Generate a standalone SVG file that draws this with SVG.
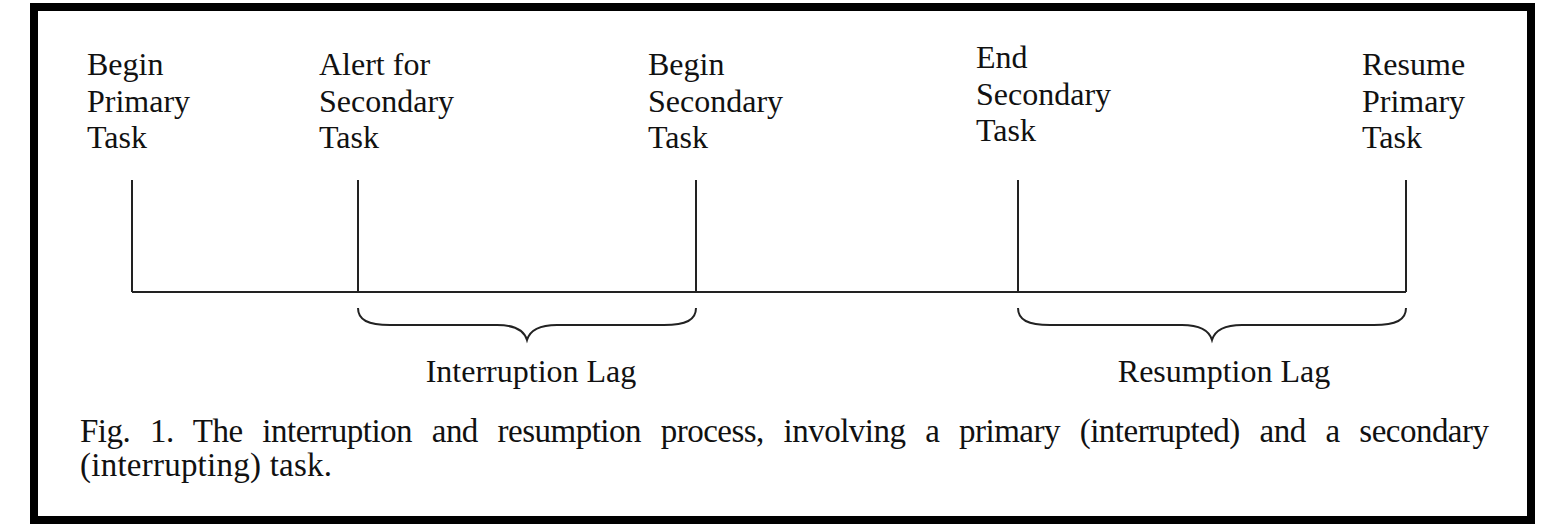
<svg xmlns="http://www.w3.org/2000/svg" width="1545" height="524" viewBox="0 0 1545 524">
<style>
.lbl{font-family:"Liberation Serif","Times New Roman",serif;font-size:32px;fill:#111;}
.cap{font-family:"Liberation Serif","Times New Roman",serif;font-size:33px;fill:#111;}
.ln{stroke:#222;stroke-width:2;fill:none;}
</style>
<rect x="0" y="0" width="1545" height="524" fill="#fff"/>
<rect id="frame" x="34" y="7" width="1497" height="513" fill="#fff" stroke="#000" stroke-width="8"/>
<g id="begin-primary">
<text class="lbl" x="87" y="75">Begin</text>
<text class="lbl" x="87" y="112">Primary</text>
<text class="lbl" x="87" y="148">Task</text>
</g>
<g id="alert-secondary">
<text class="lbl" x="319" y="75">Alert for</text>
<text class="lbl" x="319" y="112">Secondary</text>
<text class="lbl" x="319" y="148">Task</text>
</g>
<g id="begin-secondary">
<text class="lbl" x="648" y="75">Begin</text>
<text class="lbl" x="648" y="112">Secondary</text>
<text class="lbl" x="648" y="148">Task</text>
</g>
<g id="end-secondary">
<text class="lbl" x="976" y="68">End</text>
<text class="lbl" x="976" y="105">Secondary</text>
<text class="lbl" x="976" y="141">Task</text>
</g>
<g id="resume-primary">
<text class="lbl" x="1362" y="75">Resume</text>
<text class="lbl" x="1362" y="112">Primary</text>
<text class="lbl" x="1362" y="148">Task</text>
</g>
<g id="connectors">
<line class="ln" x1="132" y1="292" x2="1406" y2="292"/>
<line class="ln" x1="132" y1="180" x2="132" y2="292"/>
<line class="ln" x1="358" y1="180" x2="358" y2="292"/>
<line class="ln" x1="696" y1="180" x2="696" y2="292"/>
<line class="ln" x1="1018" y1="180" x2="1018" y2="292"/>
<line class="ln" x1="1406" y1="180" x2="1406" y2="292"/>
<path class="ln" d="M358,308 C358,320 368,325 390,325 L497,325 C515,325 524,330 527,340 C530,330 539,325 557,325 L664,325 C686,325 696,320 696,308"/>
<path class="ln" d="M1018,308 C1018,320 1028,325 1050,325 L1182,325 C1200,325 1209,330 1212,340 C1215,330 1224,325 1242,325 L1374,325 C1396,325 1406,320 1406,308"/>
</g>
<g id="interruption-lag">
<text class="lbl" x="531" y="382" text-anchor="middle">Interruption Lag</text>
</g>
<g id="resumption-lag">
<text class="lbl" x="1224" y="382" text-anchor="middle">Resumption Lag</text>
</g>
<g id="caption">
<text class="cap" x="80" y="442" word-spacing="12" textLength="1409" lengthAdjust="spacing">Fig. 1. The interruption and resumption process, involving a primary (interrupted) and a secondary</text>
<text class="cap" x="80" y="476" textLength="252" lengthAdjust="spacing">(interrupting) task.</text>
</g>
</svg>
